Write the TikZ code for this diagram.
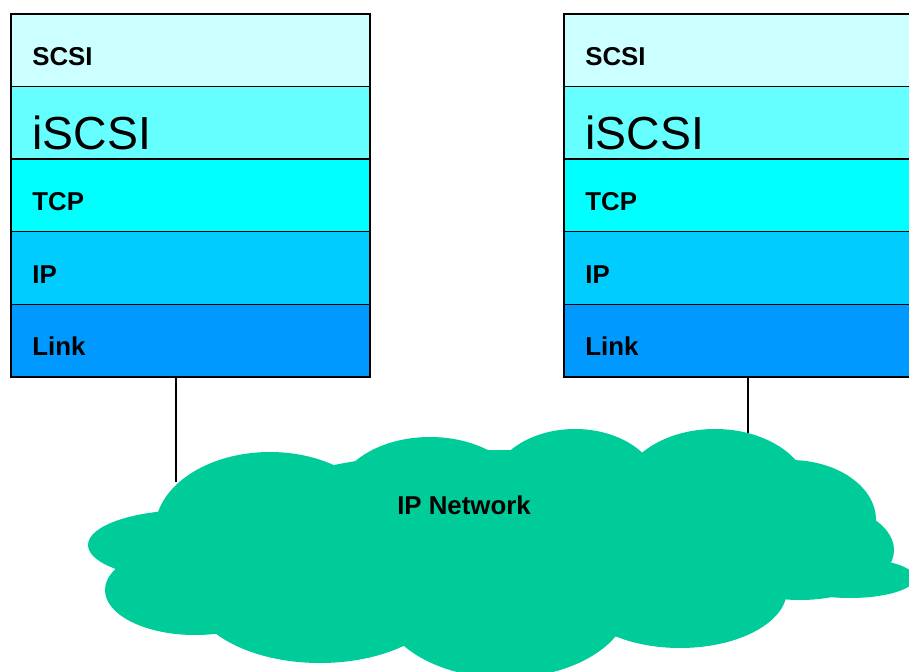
\documentclass[tikz,border=0pt]{standalone}
\usepackage{fontspec}
\setmainfont{Liberation Sans}
\usetikzlibrary{positioning}

\definecolor{scsicol}{HTML}{CCFFFF}
\definecolor{iscsicol}{HTML}{66FFFF}
\definecolor{tcpcol}{HTML}{00FFFF}
\definecolor{ipcol}{HTML}{00CCFF}
\definecolor{linkcol}{HTML}{0099FF}
\definecolor{cloudcol}{HTML}{00CC99}

\begin{document}
\begin{tikzpicture}[x=0.02cm, y=-0.02cm,
    layer/.style={draw, line width=0.8pt, minimum width=7.18cm, minimum height=1.452cm,
      inner sep=0pt, outer sep=0pt, anchor=north west},
    lbl/.style={anchor=base west, inner sep=0pt, font=\bfseries\fontsize{14.7}{17}\selectfont},
    biglbl/.style={anchor=base west, inner sep=0pt, font=\fontsize{26.4}{30}\selectfont},
    wire/.style={draw, line width=0.6pt}]
  \path[use as bounding box, clip] (0,0) rectangle (909,672);

  % the two protocol stacks
  \foreach \s/\x in {a/11, b/564} {
    \node[layer, fill=scsicol] (\s1) at (\x,14) {};
    \node[layer, fill=iscsicol, below=0pt of \s1] (\s2) {};
    \node[layer, fill=tcpcol, below=0pt of \s2] (\s3) {};
    \node[layer, fill=ipcol, below=0pt of \s3] (\s4) {};
    \node[layer, fill=linkcol, below=0pt of \s4] (\s5) {};
    \node[lbl] (\s1t) at ([shift={(21,-21)}]\s1.south west) {SCSI};
    \node[biglbl] (\s2t) at ([shift={(21,-10)}]\s2.south west) {iSCSI};
    \node[lbl] (\s3t) at ([shift={(21,-21)}]\s3.south west) {TCP};
    \node[lbl] (\s4t) at ([shift={(21,-21)}]\s4.south west) {IP};
    \node[lbl] (\s5t) at ([shift={(21,-21)}]\s5.south west) {Link};
  }

  % attachments
  \coordinate (ta) at (176,482);
  \coordinate (tb) at (748,435);
  \draw[wire] (a5.south -| ta) -- (ta);
  \draw[wire] (b5.south -| tb) -- (tb);

  % cloud
  \begin{scope}[fill=cloudcol]
    \fill (500,540) ellipse [x radius=300, y radius=90];
    \fill (270,530) ellipse [x radius=115, y radius=78];
    \fill (430,500) ellipse [x radius=95, y radius=63];
    \fill (575,490) ellipse [x radius=85, y radius=61];
    \fill (715,495) ellipse [x radius=95, y radius=66];
    \fill (790,520) ellipse [x radius=86, y radius=60];
    \fill (800,550) ellipse [x radius=94, y radius=50];
    \fill (850,578) ellipse [x radius=65, y radius=20];
    \fill (680,590) ellipse [x radius=107, y radius=58];
    \fill (505,600) ellipse [x radius=125, y radius=78];
    \fill (320,590) ellipse [x radius=130, y radius=73];
    \fill (195,590) ellipse [x radius=90, y radius=45];
    \fill (190,545) ellipse [x radius=102, y radius=35];
  \end{scope}
  \node[font=\bfseries\fontsize{14.7}{17}\selectfont] (net) at (464,505) {IP Network};
\end{tikzpicture}
\end{document}
